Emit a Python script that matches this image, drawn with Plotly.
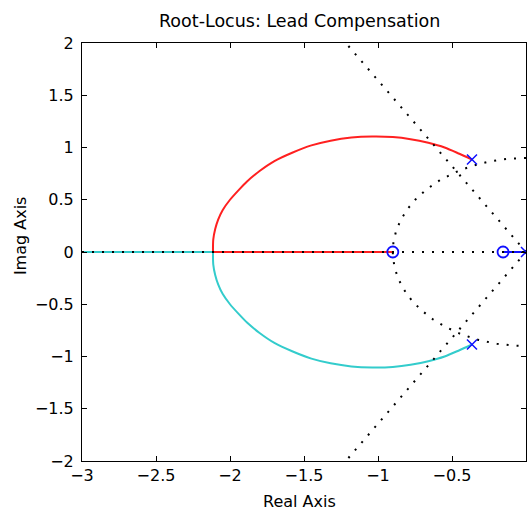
import numpy as np
import plotly.graph_objects as go

# ---- data ----
# upper locus branch (red), from break-in point to the upper pole
red_x = [-2.115, -2.113, -2.10, -2.08, -2.05, -2.00, -1.94, -1.885, -1.80, -1.70, -1.58,
         -1.45, -1.32, -1.18, -1.04, -0.90, -0.78, -0.66, -0.55, -0.45, -0.365]
red_y = [0.0, 0.12, 0.22, 0.31, 0.40, 0.50, 0.595, 0.675, 0.775, 0.87, 0.95,
         1.02, 1.065, 1.095, 1.105, 1.10, 1.08, 1.045, 1.00, 0.94, 0.885]
# red real-axis segment (break-in point -> zero)
red_axis_x = [-2.115, -0.90]
red_axis_y = [0.0, 0.0]

# lower locus branch (cyan)
cyan_x = [-2.115, -2.113, -2.10, -2.08, -2.05, -2.00, -1.94, -1.885, -1.80, -1.70, -1.58,
          -1.45, -1.32, -1.18, -1.04, -0.90, -0.78, -0.66, -0.55, -0.45, -0.365]
cyan_y = [0.0, -0.12, -0.22, -0.31, -0.40, -0.50, -0.595, -0.675, -0.775, -0.87, -0.95,
          -1.02, -1.065, -1.095, -1.105, -1.10, -1.08, -1.045, -1.00, -0.94, -0.885]
cyan_axis_x = [-3.0, -2.115]
cyan_axis_y = [0.0, 0.0]

# blue branch (pole at origin -> zero)
blue_x = [-0.155, 0.0]
blue_y = [0.0, 0.0]

# open-loop poles and zeros
pole_x = [-0.365, -0.365, 0.0]
pole_y = [0.885, -0.885, 0.0]
zero_x = [-0.90, -0.155]
zero_y = [0.0, 0.0]

# s-plane grid parameters (damping ratio, natural frequency)
grid_zeta = [0.52]
grid_wn = [0.9]

title_text = "Root-Locus: Lead Compensation"
x_ticks = [-3, -2.5, -2, -1.5, -1, -0.5, 0]
y_ticks = [-2, -1.5, -1, -0.5, 0, 0.5, 1, 1.5, 2]

FONT = "DejaVu Sans"
DOT = dict(color="black", width=2, dash="2px,8px")
RED = "#ff2020"
CYAN = "#33cccc"
BLUE = "#1010ff"

fig = go.Figure()

# locus branches
fig.add_trace(go.Scatter(x=cyan_axis_x, y=cyan_axis_y, mode="lines",
                         line=dict(color=CYAN, width=2)))
fig.add_trace(go.Scatter(x=cyan_x, y=cyan_y, mode="lines",
                         line=dict(color=CYAN, width=2, shape="spline", smoothing=0.8)))
fig.add_trace(go.Scatter(x=red_axis_x, y=red_axis_y, mode="lines",
                         line=dict(color=RED, width=2)))
fig.add_trace(go.Scatter(x=red_x, y=red_y, mode="lines",
                         line=dict(color=RED, width=2, shape="spline", smoothing=0.8)))
fig.add_trace(go.Scatter(x=blue_x, y=blue_y, mode="lines",
                         line=dict(color=BLUE, width=2)))

# grid: real axis (zeta = 1), constant-zeta rays, constant-wn circle
fig.add_trace(go.Scatter(x=[-3.0, 0.0], y=[0.0, 0.0], mode="lines", line=DOT))
for z in grid_zeta:
    th = np.arccos(z)
    r = 3.0
    fig.add_trace(go.Scatter(x=[0.0, -r * np.cos(th)], y=[0.0, r * np.sin(th)],
                             mode="lines", line=DOT))
    fig.add_trace(go.Scatter(x=[0.0, -r * np.cos(th)], y=[0.0, -r * np.sin(th)],
                             mode="lines", line=DOT))
for wn in grid_wn:
    t = np.linspace(np.pi / 2, 3 * np.pi / 2, 200)
    fig.add_trace(go.Scatter(x=wn * np.cos(t), y=wn * np.sin(t), mode="lines", line=DOT))

# poles and zeros
fig.add_trace(go.Scatter(x=pole_x, y=pole_y, mode="markers", cliponaxis=False,
                         marker=dict(symbol="x-thin", size=10,
                                     line=dict(color=BLUE, width=1.5))))
fig.add_trace(go.Scatter(x=zero_x, y=zero_y, mode="markers", cliponaxis=False,
                         marker=dict(symbol="circle-open", size=11, color=BLUE,
                                     line=dict(color=BLUE, width=1.8))))

axis_common = dict(showgrid=False, zeroline=False, showline=True, linecolor="black",
                   linewidth=1, mirror="allticks", ticks="inside", ticklen=5,
                   tickcolor="black", tickfont=dict(family=FONT, size=16, color="black"))

fig.update_layout(
    width=527, height=513,
    margin=dict(l=82, r=1, t=43, b=52),
    paper_bgcolor="white", plot_bgcolor="white",
    showlegend=False,
    xaxis=dict(range=[-3, 0], tickvals=x_ticks,
               ticktext=[("−" if v < 0 else "") + f"{abs(v):g}" for v in x_ticks],
               **axis_common),
    yaxis=dict(range=[-2, 2], tickvals=y_ticks,
               ticktext=[("−" if v < 0 else "") + f"{abs(v):g}" for v in y_ticks],
               ticklabelstandoff=4, **axis_common),
    annotations=[
        dict(text=title_text, xref="paper", yref="paper", x=0.49, y=1.0, yshift=22,
             showarrow=False, font=dict(family=FONT, size=17.5, color="black"),
             xanchor="center", yanchor="middle"),
        dict(text="Real Axis", xref="paper", yref="paper", x=0.49, y=0.0, yshift=-40,
             showarrow=False, font=dict(family=FONT, size=16, color="black"),
             xanchor="center", yanchor="middle"),
        dict(text="Imag Axis", xref="paper", yref="paper", x=0.0, xshift=-62, y=0.538,
             showarrow=False, textangle=-90, font=dict(family=FONT, size=16, color="black"),
             xanchor="center", yanchor="middle"),
    ],
)

fig.write_html("out.html")
